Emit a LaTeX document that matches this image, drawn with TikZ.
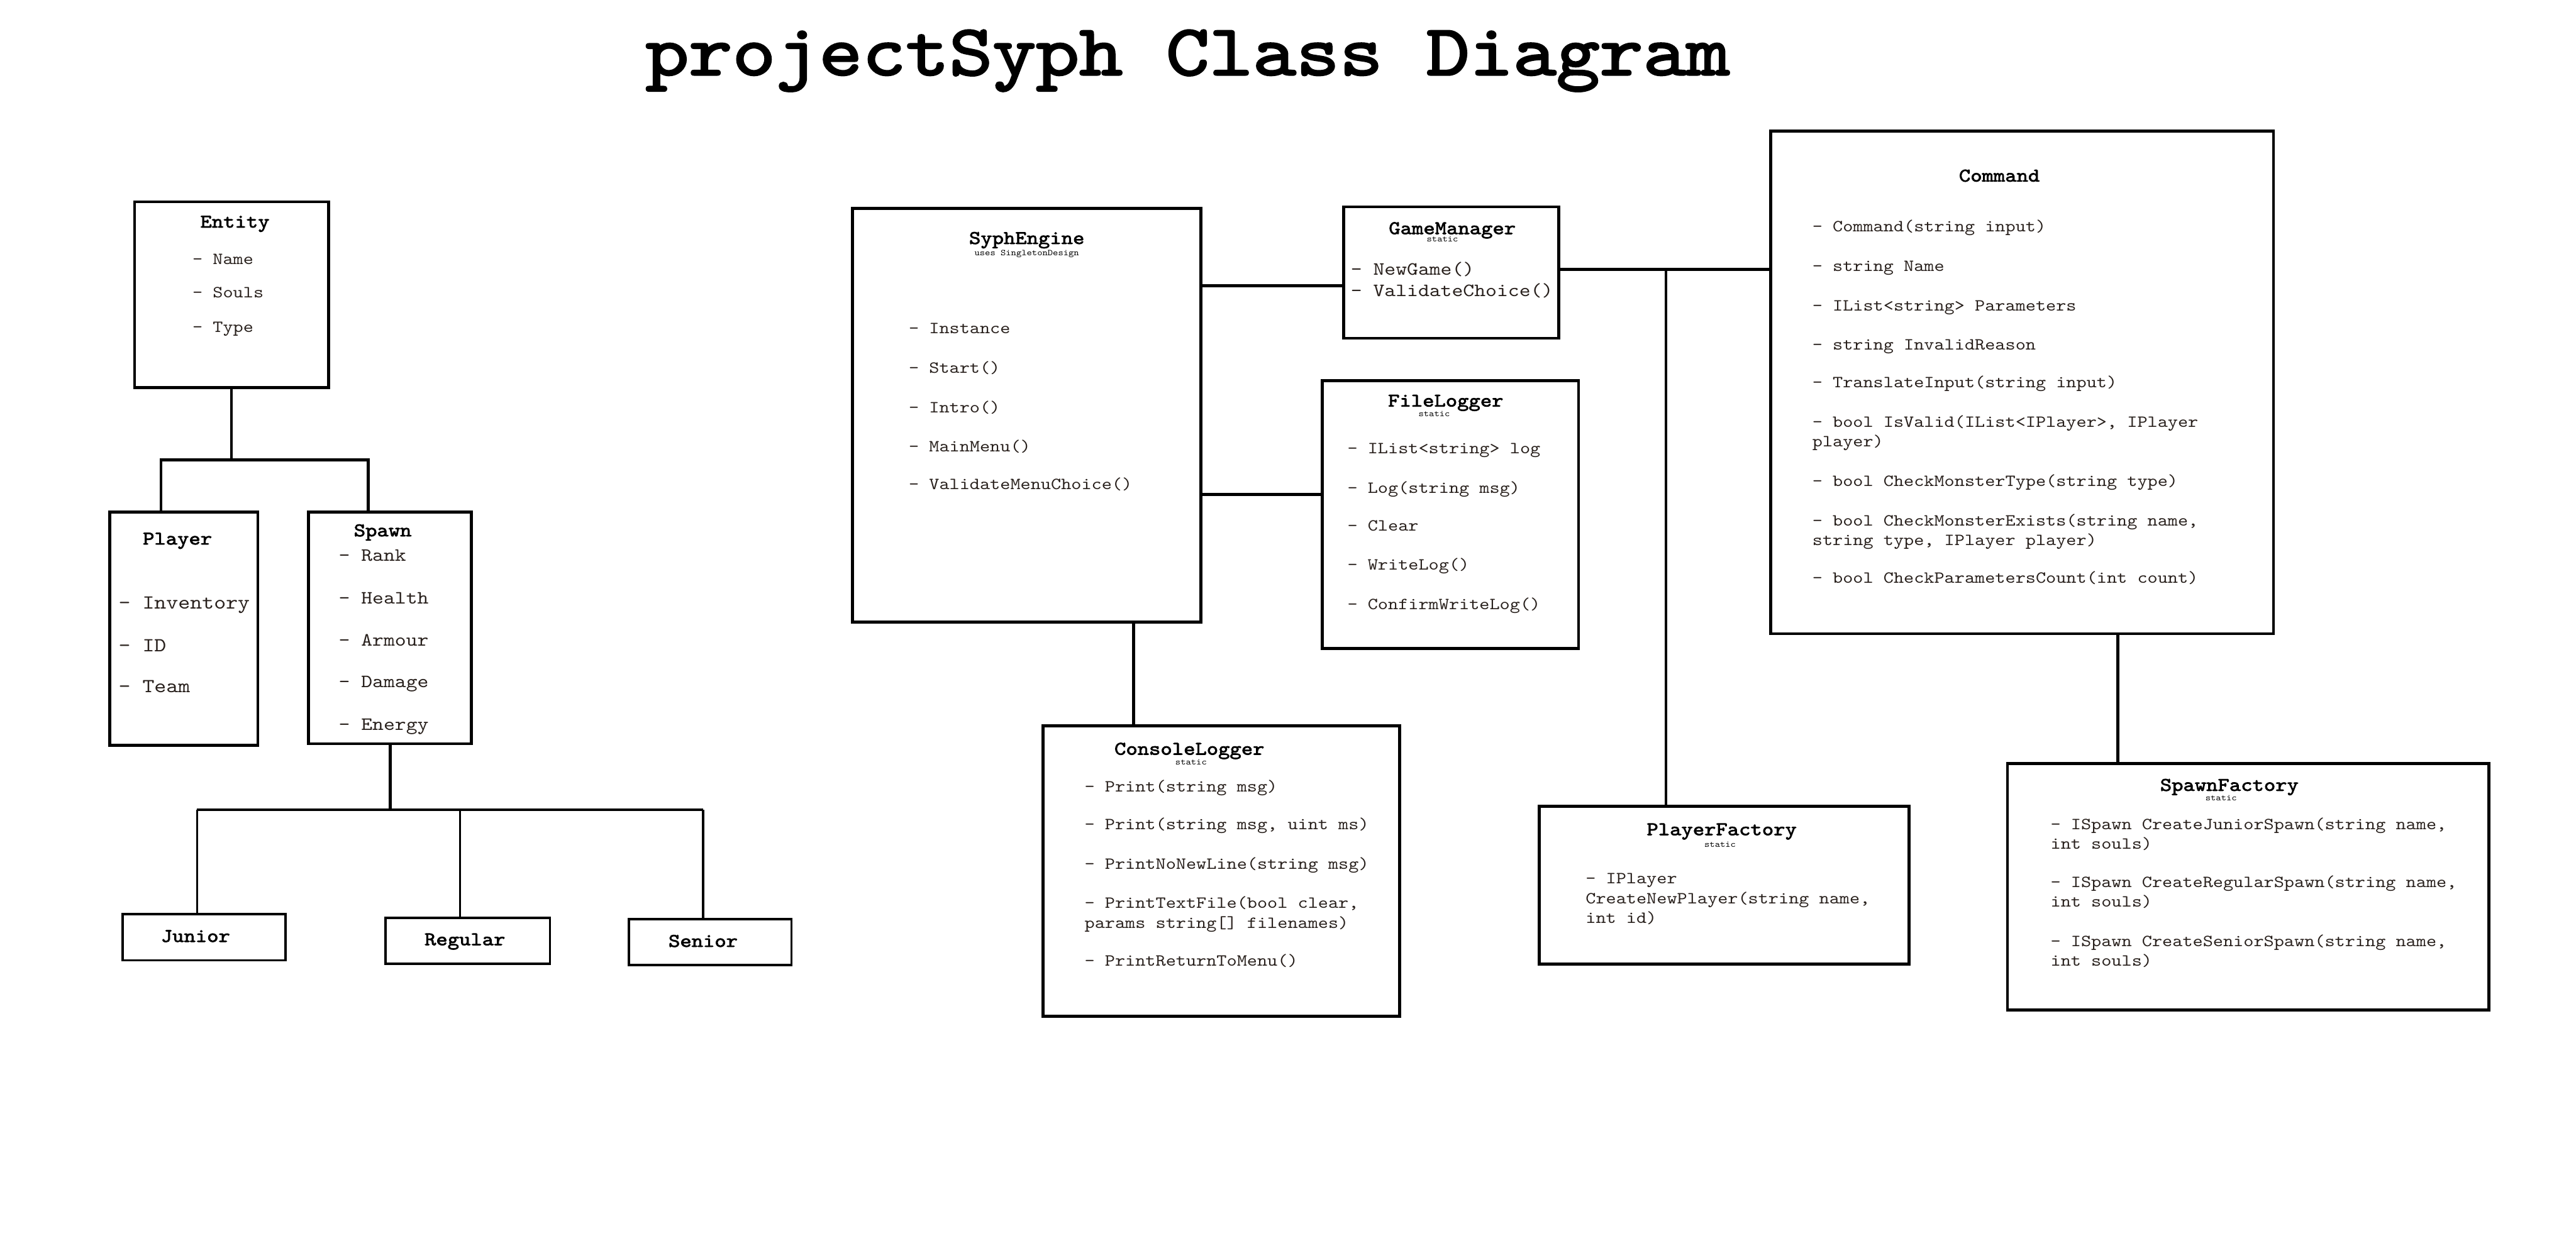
\documentclass[tikz,border=0pt]{standalone}
\usepackage{fontspec}
\newfontfamily\cour{Liberation Mono}
\newfontfamily\lmi{lmmono10-regular.otf}[FakeStretch=1.143]
\newfontfamily\lmb{lmmono10-regular.otf}[FakeStretch=1.143, FakeBold=2.5]
\definecolor{itemc}{RGB}{40,32,28}
\tikzset{
  box/.style={draw, line width=1.8pt, inner sep=0pt, anchor=north west},
  thinbox/.style={draw, line width=1.5pt, inner sep=0pt, anchor=north west},
  wire/.style={line width=1.8pt},
  thinwire/.style={line width=1.2pt},
  cls/.style={inner sep=0pt, font=\lmb\fontsize{11.7}{13}\selectfont, text height=7.1pt, text depth=0pt},
  stat/.style={inner sep=0pt, font=\lmi\fontsize{5.3}{6}\selectfont, text height=3.3pt, text depth=0pt},
  itm/.style={inner sep=0pt, anchor=west, text=itemc, font=\lmi\fontsize{10.3}{12}\selectfont, text height=6.3pt, text depth=0pt},
  itmL/.style={itm, font=\lmi\fontsize{12.1}{14}\selectfont, text height=7.4pt},
  itmM/.style={itm, font=\lmi\fontsize{11.4}{13}\selectfont, text height=7.0pt},
  maintitle/.style={inner sep=0pt, font=\lmb\fontsize{44}{48}\selectfont},
}
\begin{document}
\begin{tikzpicture}[x=1pt, y=-1pt]
\useasboundingbox (0,0) rectangle (1568,766);

\node[maintitle] (title) at (723,37) {projectSyph Class Diagram};

% ---------- boxes ----------
\node[box, minimum width=118pt, minimum height=113pt] (entity) at (81,122) {};
\node[box, minimum width=90pt, minimum height=142pt] (player) at (66,311) {};
\node[box, minimum width=99pt, minimum height=141pt] (spawn) at (187,311) {};
\node[thinbox, minimum width=99pt, minimum height=28pt] (junior) at (74,556) {};
\node[thinbox, minimum width=100pt, minimum height=28pt] (regular) at (234,558) {};
\node[thinbox, minimum width=99pt, minimum height=28pt] (senior) at (382,559) {};
\node[box, minimum width=212pt, minimum height=252pt] (syph) at (518,126) {};
\node[box, minimum width=131pt, minimum height=80pt] (gm) at (817,125) {};
\node[box, minimum width=156pt, minimum height=163pt] (filelog) at (804,231) {};
\node[box, minimum width=217pt, minimum height=177pt] (console) at (634,441) {};
\node[box, minimum width=306pt, minimum height=306pt] (command) at (1077,79) {};
\node[box, minimum width=225pt, minimum height=96pt] (pf) at (936,490) {};
\node[box, minimum width=293pt, minimum height=150pt] (sf) at (1221,464) {};

% ---------- Entity ----------
\node[cls] (entityT) at (143,135) {Entity};
\node[itm] (entity1) at (117,158) {- Name};
\node[itm] (entity2) at (117,178) {- Souls};
\node[itm] (entity3) at (117,199) {- Type};

% ---------- Player ----------
\node[cls] (playerT) at (108,328) {Player};
\node[itmL] (player1) at (72,367) {- Inventory};
\node[itmL] (player2) at (72,393) {- ID};
\node[itmL] (player3) at (72,418) {- Team};

% ---------- Spawn ----------
\node[cls] (spawnT) at (233,323) {Spawn};
\node[itmM] (spawn1) at (206,338) {- Rank};
\node[itmM] (spawn2) at (206,364) {- Health};
\node[itmM] (spawn3) at (206,390) {- Armour};
\node[itmM] (spawn4) at (206,415) {- Damage};
\node[itmM] (spawn5) at (206,441) {- Energy};

% ---------- Junior / Regular / Senior ----------
\node[cls] (juniorT) at (119,570) {Junior};
\node[cls] (regularT) at (283,572) {Regular};
\node[cls] (seniorT) at (428,573) {Senior};

% ---------- SyphEngine ----------
\node[cls] (syphT) at (625,145) {SyphEngine};
\node[stat] (syphS) at (625,154) {uses SingletonDesign};
\node[itm] (syph1) at (553,200) {- Instance};
\node[itm] (syph2) at (553,224) {- Start()};
\node[itm] (syph3) at (553,248) {- Intro()};
\node[itm] (syph4) at (553,272) {- MainMenu()};
\node[itm] (syph5) at (553,295) {- ValidateMenuChoice()};

% ---------- GameManager ----------
\node[cls] (gmT) at (884,139) {GameManager};
\node[stat] (gmS) at (878,145.5) {static};
\node[itmM] (gm1) at (822,164) {- NewGame()};
\node[itmM] (gm2) at (822,177) {- ValidateChoice()};

% ---------- FileLogger ----------
\node[cls] (filelogT) at (880,244) {FileLogger};
\node[stat] (filelogS) at (873,252) {static};
\node[itm] (filelog1) at (820,273) {- IList<string> log};
\node[itm] (filelog2) at (820,297) {- Log(string msg)};
\node[itm] (filelog3) at (820,320) {- Clear};
\node[itm] (filelog4) at (820,344) {- WriteLog()};
\node[itm] (filelog5) at (820,368) {- ConfirmWriteLog()};

% ---------- ConsoleLogger ----------
\node[cls] (consoleT) at (724,456) {ConsoleLogger};
\node[stat] (consoleS) at (725,464) {static};
\node[itm] (console1) at (660,479) {- Print(string msg)};
\node[itm] (console2) at (660,502) {- Print(string msg, uint ms)};
\node[itm] (console3) at (660,526) {- PrintNoNewLine(string msg)};
\node[itm] (console4) at (660,550) {- PrintTextFile(bool clear,};
\node[itm] (console5) at (660,562) {params string[] filenames)};
\node[itm] (console6) at (660,585) {- PrintReturnToMenu()};

% ---------- Command ----------
\node[cls] (commandT) at (1217,107) {Command};
\node[itm] (command1) at (1103,138) {- Command(string input)};
\node[itm] (command2) at (1103,162) {- string Name};
\node[itm] (command3) at (1103,186) {- IList<string> Parameters};
\node[itm] (command4) at (1103,210) {- string InvalidReason};
\node[itm] (command5) at (1103,233) {- TranslateInput(string input)};
\node[itm] (command6) at (1103,257) {- bool IsValid(IList<IPlayer>, IPlayer};
\node[itm] (command7) at (1103,269) {player)};
\node[itm] (command8) at (1103,293) {- bool CheckMonsterType(string type)};
\node[itm] (command9) at (1103,317) {- bool CheckMonsterExists(string name,};
\node[itm] (command10) at (1103,329) {string type, IPlayer player)};
\node[itm] (command11) at (1103,352) {- bool CheckParametersCount(int count)};

% ---------- PlayerFactory ----------
\node[cls] (pfT) at (1048,505) {PlayerFactory};
\node[stat] (pfS) at (1047,514) {static};
\node[itm] (pf1) at (965,535) {- IPlayer};
\node[itm] (pf2) at (965,547) {CreateNewPlayer(string name,};
\node[itm] (pf3) at (965,559) {int id)};

% ---------- SpawnFactory ----------
\node[cls] (sfT) at (1357,478) {SpawnFactory};
\node[stat] (sfS) at (1352,486) {static};
\node[itm] (sf1) at (1248,502) {- ISpawn CreateJuniorSpawn(string name,};
\node[itm] (sf2) at (1248,514) {int souls)};
\node[itm] (sf3) at (1248,537) {- ISpawn CreateRegularSpawn(string name,};
\node[itm] (sf4) at (1248,549) {int souls)};
\node[itm] (sf5) at (1248,573) {- ISpawn CreateSeniorSpawn(string name,};
\node[itm] (sf6) at (1248,585) {int souls)};

% ---------- connectors ----------
\coordinate (eL) at (98,280);
\coordinate (eR) at (224,280);
\draw[wire] (entity.south) -- (entity.south |- eL);
\draw[wire] (player.north -| eL) |- (eR) -- (spawn.north -| eR);

\coordinate (sL) at (120,493);
\coordinate (sM) at (280,493);
\coordinate (sR) at (428,493);
\draw[wire] (spawn.south) -- (spawn.south |- sL);
\draw[wire] (sL) -- (sR);
\draw[thinwire] (junior.north -| sL) -- (sL);
\draw[thinwire] (regular.north -| sM) -- (sM);
\draw[thinwire] (senior.north -| sR) -- (sR);

\coordinate (a1) at (0,174);
\draw[wire] (syph.east |- a1) -- (gm.west |- a1);
\coordinate (a2) at (0,301);
\draw[wire] (syph.east |- a2) -- (filelog.west |- a2);
\coordinate (a3) at (690,0);
\draw[wire] (syph.south -| a3) -- (console.north -| a3);
\coordinate (a4) at (1014,164);
\draw[wire] (gm.east |- a4) -- (command.west |- a4);
\draw[wire] (a4) -- (pf.north -| a4);
\coordinate (a5) at (1289,0);
\draw[wire] (command.south -| a5) -- (sf.north -| a5);
\end{tikzpicture}
\end{document}
